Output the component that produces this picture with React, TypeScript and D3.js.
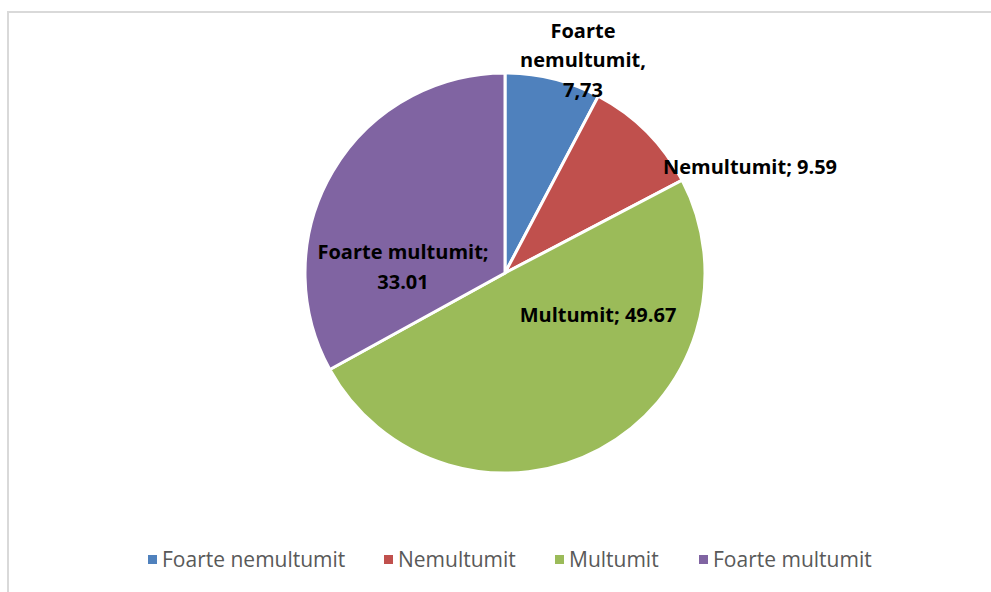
import React from "react";
import * as d3 from "d3";

const categories = ["Foarte nemultumit", "Nemultumit", "Multumit", "Foarte multumit"];
const values = [7.73, 9.59, 49.67, 33.01];
const colors = ["#4F81BD", "#C0504D", "#9BBB59", "#8064A2"];

// label layout: lines and offset from pie center
const labelLines: string[][] = [
  ["Foarte", "nemultumit,", "7,73"],
  ["Nemultumit; 9.59"],
  ["Multumit; 49.67"],
  ["Foarte multumit;", "33.01"],
];
const labelOffsets: [number, number][] = [
  [78, -213],
  [245, -106],
  [93, 42],
  [-102, -6],
];

const W = 991;
const H = 592;
const cx = 505;
const cy = 273;
const R = 200;
const font = "'Open Sans', sans-serif";

export default function App() {
  const pie = d3.pie<number>().sort(null).value((d) => d)(values);
  const arc = d3.arc<d3.PieArcDatum<number>>().innerRadius(0).outerRadius(R);
  const legendX = [148, 384, 555, 699];
  return (
    <svg width={W} height={H} style={{ position: "absolute", left: 0, top: 0 }}>
      <rect x={0} y={0} width={W} height={H} fill="#fff" />
      <rect x={8} y={12} width={W + 20} height={H + 20} fill="#fff" stroke="#d9d9d9" strokeWidth={2} />
      <g transform={`translate(${cx},${cy})`}>
        {pie.map((p, i) => (
          <path key={i} d={arc(p) || ""} fill={colors[i]} stroke="#fff" strokeWidth={3} />
        ))}
        {labelLines.map((lines, i) => {
          const [dx, dy] = labelOffsets[i];
          const lh = 29.5;
          const y0 = dy - ((lines.length - 1) * lh) / 2;
          return (
            <text key={i} textAnchor="middle" fontFamily={font} fontWeight="bold" fontSize={20} fill="#000">
              {lines.map((l, j) => (
                <tspan key={j} x={dx} y={y0 + j * lh} dy="0.35em">
                  {l}
                </tspan>
              ))}
            </text>
          );
        })}
      </g>
      <g>
        {categories.map((c, i) => (
          <g key={c} transform={`translate(${legendX[i]},560)`}>
            <rect x={0} y={-5} width={9} height={9} fill={colors[i]} />
            <text x={14} y={0} dy="0.35em" fontFamily={font} fontSize={21} fill="#595959">
              {c}
            </text>
          </g>
        ))}
      </g>
    </svg>
  );
}
